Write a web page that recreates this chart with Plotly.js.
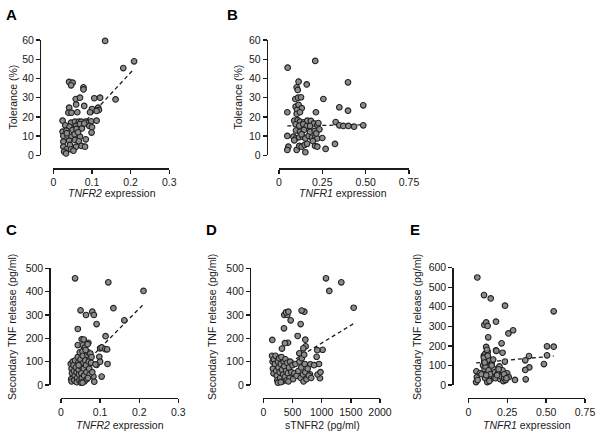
<!DOCTYPE html>
<html>
<head>
<meta charset="utf-8">
<script src="https://cdn.plot.ly/plotly-3.0.1.min.js"></script>
<style>html,body{margin:0;padding:0;background:#fff}#chart{width:600px;height:437px}</style>
</head>
<body>
<div id="chart"></div>
<script>
// ---------- Data ----------
// Panel A: TNFR2 expression vs Tolerance (%)
const aX = [0.134,0.209,0.181,0.161,0.041,0.050,0.046,0.078,0.078,0.058,0.069,0.106,0.121,0.041,0.059,0.080,0.100,0.116,0.118,0.039,0.047,0.062,0.095,0.112,0.024,0.031,0.046,0.056,0.066,0.072,0.084,0.091,0.098,0.112,0.093,0.100,0.059,0.069,0.042,0.024,0.034,0.050,0.060,0.074,0.099,0.026,0.037,0.047,0.060,0.069,0.084,0.026,0.041,0.056,0.066,0.043,0.059,0.073,0.026,0.082,0.034,0.046,0.028,0.033,0.052,0.035,0.055,0.064,0.080];
const aY = [59.5,48.9,45.4,29.1,38.2,37.8,36.4,35.4,34.3,29.3,30.0,29.7,30.0,24.8,26.5,25.7,24.1,24.8,23.6,22.2,22.2,22.4,22.4,23.1,18.0,15.6,17.0,17.5,17.5,17.5,17.5,17.0,17.7,18.0,15.3,14.6,15.3,16.3,14.9,12.3,12.8,13.2,13.7,14.0,11.8,10.1,10.2,9.7,10.6,9.7,8.3,7.1,7.6,8.0,7.3,5.4,4.5,4.9,4.5,4.5,3.1,3.1,1.9,1.0,2.4,11.5,11.0,12.0,16.5];
const aFit = {x:[0.024,0.209], y:[5.0,45.0]};

// Panel B: TNFR1 expression vs Tolerance (%)
const bX = [0.050,0.209,0.398,0.113,0.160,0.102,0.108,0.094,0.110,0.127,0.256,0.348,0.486,0.096,0.113,0.131,0.104,0.048,0.213,0.398,0.102,0.121,0.088,0.108,0.121,0.144,0.163,0.184,0.202,0.221,0.096,0.117,0.140,0.160,0.179,0.227,0.327,0.348,0.371,0.400,0.433,0.486,0.048,0.083,0.098,0.117,0.137,0.152,0.171,0.190,0.210,0.221,0.098,0.121,0.144,0.179,0.206,0.215,0.054,0.048,0.102,0.117,0.131,0.148,0.208,0.221,0.152,0.269,0.323,0.162,0.195,0.088,0.130,0.233,0.250];
const bY = [45.6,49.1,38.0,38.3,36.9,35.4,34.0,29.3,30.0,30.2,29.3,25.0,26.0,25.3,26.2,24.5,23.6,22.4,22.4,23.2,21.5,22.4,18.0,18.3,17.5,17.2,18.0,17.9,16.6,15.8,16.1,15.4,16.1,15.2,15.2,16.8,17.3,15.6,15.3,15.3,14.9,15.6,10.1,9.7,8.8,9.4,9.7,8.8,10.1,9.2,9.7,8.8,12.9,12.3,13.2,12.3,12.7,11.4,4.5,2.8,2.8,4.9,4.5,5.4,4.9,4.5,1.6,3.3,5.9,6.0,7.5,7.8,11.0,13.5,9.0];
const bFit = {x:[0.048,0.50], y:[15.3,15.9]};

// Panel C: TNFR2 expression vs Secondary TNF release (pg/ml)
const cX = [0.036,0.121,0.211,0.134,0.162,0.050,0.064,0.080,0.084,0.091,0.043,0.114,0.053,0.043,0.056,0.070,0.119,0.104,0.083,0.085,0.091,0.098,0.100,0.100,0.104,0.113,0.118,0.025,0.027,0.028,0.026,0.027,0.030,0.032,0.033,0.035,0.034,0.036,0.038,0.040,0.041,0.040,0.043,0.044,0.045,0.046,0.047,0.048,0.050,0.050,0.052,0.053,0.051,0.055,0.056,0.057,0.058,0.059,0.060,0.061,0.062,0.064,0.065,0.066,0.067,0.068,0.070,0.071,0.072,0.073,0.075,0.077,0.080,0.088,0.058,0.063,0.045,0.069,0.055,0.078];
const cY = [457,440,403,329,277,320,300,314,300,261,240,209,196,171,171,181,90,36,36,14,86,121,100,157,161,154,153,90,70,50,25,15,100,85,60,40,20,105,75,55,30,12,120,95,65,45,20,140,110,80,50,28,10,145,125,95,70,40,15,160,105,85,55,25,130,175,140,100,70,45,135,95,55,88,195,150,85,30,10,120];
const cFit = {x:[0.025,0.211], y:[31,346]};

// Panel D: sTNFR2 (pg/ml) vs Secondary TNF release (pg/ml)
const dX = [1074,1337,1131,1549,1017,360,411,389,429,469,703,657,640,354,154,423,320,589,720,726,686,617,371,926,914,954,971,806,800,150,160,165,175,180,200,210,220,230,240,250,260,270,280,290,300,310,320,330,340,350,360,370,380,390,400,410,420,440,450,460,480,500,510,530,550,570,600,620,640,650,660,680,690,700,710,720,740,760,780,820,870,930,980,250,300,430];
const dY = [457,440,403,331,151,300,300,311,314,277,314,319,261,243,193,181,156,210,194,166,157,136,179,149,121,90,29,89,46,125,100,70,50,110,90,125,60,40,20,100,75,115,55,30,90,120,65,15,45,100,80,35,110,60,20,95,50,75,30,100,55,85,25,50,90,40,60,100,30,75,115,45,15,130,90,55,25,70,40,30,85,45,55,10,12,15];
const dFit = {x:[150,1549], y:[50,263]};

// Panel E: TNFR1 expression vs Secondary TNF release (pg/ml)
const eX = [0.058,0.101,0.144,0.236,0.549,0.178,0.103,0.115,0.124,0.258,0.288,0.128,0.214,0.220,0.178,0.506,0.549,0.506,0.486,0.390,0.392,0.366,0.366,0.369,0.300,0.050,0.052,0.055,0.060,0.075,0.085,0.095,0.100,0.102,0.105,0.108,0.110,0.112,0.115,0.118,0.120,0.122,0.125,0.128,0.130,0.132,0.135,0.138,0.140,0.145,0.150,0.155,0.160,0.165,0.170,0.175,0.180,0.190,0.200,0.205,0.210,0.220,0.225,0.230,0.235,0.240,0.250,0.260,0.100,0.110,0.120,0.130,0.140,0.150,0.115,0.105,0.125,0.135,0.160,0.185,0.195,0.230,0.245];
const eY = [550,460,443,406,377,324,307,320,302,264,280,244,213,165,177,198,196,152,107,148,90,126,77,29,26,15,70,40,25,60,55,100,150,120,80,35,160,130,195,110,60,15,170,140,90,45,125,100,70,30,110,55,85,40,65,35,175,60,95,30,45,75,20,35,120,25,60,40,140,95,180,75,55,100,50,115,150,20,130,50,80,55,35];
const eFit = {x:[0.050,0.549], y:[113,148]};

// ---------- Layout helpers ----------
const W = 600, H = 437;
const px = v => v / W;
const py = v => 1 - v / H;
const FONT = 'Liberation Sans, Arial, Helvetica, sans-serif';
const INK = '#1a1a1a';

const panels = [
  {k:'', X:aX, Y:aY, fit:aFit, xr:[0,0.3], yr:[0,60], xd:[53.3,169.3], yd:[155.3,40], ypos:40, xpos:168.3,
   xt:[0,0.1,0.2,0.3], xl:['0','0.1','0.2','0.3'], yt:[0,10,20,30,40,50,60]},
  {k:'2', X:bX, Y:bY, fit:bFit, xr:[0,0.75], yr:[0,60], xd:[279,409], yd:[155.3,40], ypos:266.7, xpos:168.3,
   xt:[0,0.25,0.5,0.75], xl:['0','0.25','0.50','0.75'], yt:[0,10,20,30,40,50,60]},
  {k:'3', X:cX, Y:cY, fit:cFit, xr:[0,0.3], yr:[0,500], xd:[61,178.3], yd:[385,268.3], ypos:49.3, xpos:397.7,
   xt:[0,0.1,0.2,0.3], xl:['0','0.1','0.2','0.3'], yt:[0,100,200,300,400,500]},
  {k:'4', X:dX, Y:dY, fit:dFit, xr:[0,2000], yr:[0,500], xd:[263.3,380], yd:[385,268.3], ypos:250, xpos:397.7,
   xt:[0,500,1000,1500,2000], xl:['0','500','1000','1500','2000'], yt:[0,100,200,300,400,500]},
  {k:'5', X:eX, Y:eY, fit:eFit, xr:[0,0.75], yr:[0,600], xd:[468.3,585], yd:[385,267.7], ypos:452.3, xpos:397.7,
   xt:[0,0.25,0.5,0.75], xl:['0','0.25','0.50','0.75'], yt:[0,100,200,300,400,500,600]}
];

const traces = [];
const layout = {
  width: W, height: H,
  margin: {l:0, r:0, t:0, b:0},
  paper_bgcolor: '#fff', plot_bgcolor: 'rgba(0,0,0,0)',
  showlegend: false,
  font: {family: FONT, size: 10, color: INK},
  annotations: []
};

panels.forEach(p => {
  const xa = 'x' + p.k, ya = 'y' + p.k;
  traces.push({type:'scatter', mode:'lines', x:p.fit.x, y:p.fit.y, xaxis:xa, yaxis:ya,
    line:{color:INK, width:1.3, dash:'4px,3px'}, cliponaxis:false, hoverinfo:'skip'});
  traces.push({type:'scatter', mode:'markers', x:p.X, y:p.Y, xaxis:xa, yaxis:ya, cliponaxis:false,
    marker:{size:5.6, color:'#8c8c8c', line:{color:'#222', width:1.1}}});
  const common = {showgrid:false, zeroline:false, showline:true, linecolor:INK, linewidth:1.4,
    ticks:'outside', ticklen:4, tickwidth:1.4, tickcolor:INK, tickfont:{family:FONT, size:10.5, color:INK},
    fixedrange:true};
  layout['xaxis' + p.k] = Object.assign({}, common, {
    domain:[px(p.xd[0]), px(p.xd[1])], range:p.xr, anchor:'free', position:py(p.xpos),
    tickmode:'array', tickvals:p.xt, ticktext:p.xl});
  layout['yaxis' + p.k] = Object.assign({}, common, {
    domain:[py(p.yd[0]), py(p.yd[1])], range:p.yr, anchor:'free', position:px(p.ypos),
    tickmode:'array', tickvals:p.yt, ticktext:p.yt.map(String)});
});

// Text annotations (titles and panel letters)
const ann = (text, x, y, opts) => layout.annotations.push(Object.assign({
  text, x:px(x), y:py(y), xref:'paper', yref:'paper', showarrow:false,
  xanchor:'center', yanchor:'middle', font:{family:FONT, size:10.5, color:INK}}, opts || {}));

const letters = [['A',11,14],['B',232,14],['C',11,229],['D',211,229],['E',415,229]];
letters.forEach(l => ann('<b>' + l[0] + '</b>', l[1], l[2], {font:{family:FONT, size:15, color:'#000'}}));

ann('Tolerance (%)', 12, 97.5, {textangle:-90});
ann('Tolerance (%)', 237, 97.5, {textangle:-90});
ann('<i>TNFR2</i> expression', 111.5, 193);
ann('<i>TNFR1</i> expression', 343, 193);
ann('Secondary TNF release (pg/ml)', 12, 327, {textangle:-90});
ann('Secondary TNF release (pg/ml)', 212, 327, {textangle:-90});
ann('Secondary TNF release (pg/ml)', 417, 327, {textangle:-90});
ann('<i>TNFR2</i> expression', 120, 425);
ann('sTNFR2 (pg/ml)', 322, 425);
ann('<i>TNFR1</i> expression', 527, 425);

Plotly.newPlot('chart', traces, layout, {staticPlot:true, displayModeBar:false});
</script>
</body>
</html>
